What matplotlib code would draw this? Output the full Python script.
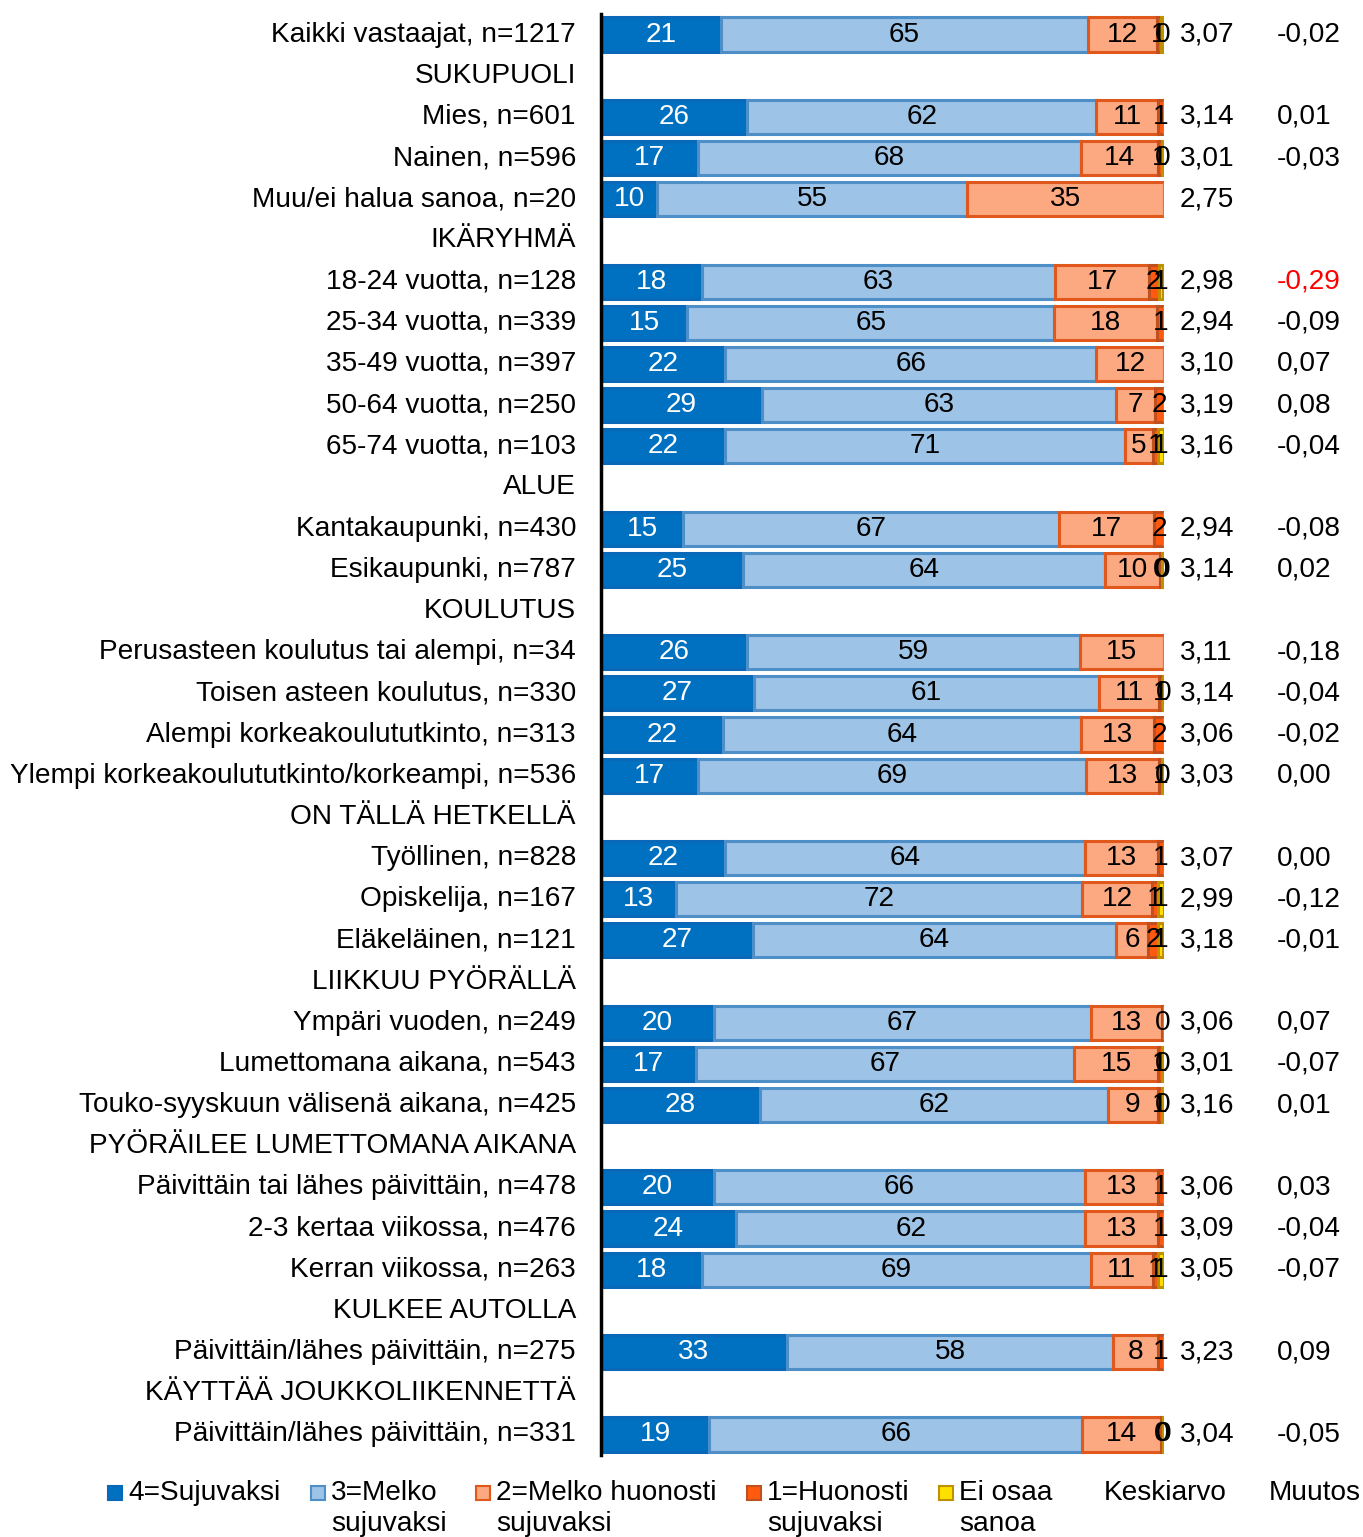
import matplotlib.pyplot as plt
from matplotlib.patches import Rectangle
import numpy as np

plt.rcParams['font.family'] = ['Liberation Sans', 'DejaVu Sans']

# Rows top to bottom; None marks a section header row
row_labels = [
    'Kaikki vastaajat, n=1217',
    'SUKUPUOLI',
    'Mies, n=601',
    'Nainen, n=596',
    'Muu/ei halua sanoa, n=20',
    'IKÄRYHMÄ',
    '18-24 vuotta, n=128',
    '25-34 vuotta, n=339',
    '35-49 vuotta, n=397',
    '50-64 vuotta, n=250',
    '65-74 vuotta, n=103',
    'ALUE',
    'Kantakaupunki, n=430',
    'Esikaupunki, n=787',
    'KOULUTUS',
    'Perusasteen koulutus tai alempi, n=34',
    'Toisen asteen koulutus, n=330',
    'Alempi korkeakoulututkinto, n=313',
    'Ylempi korkeakoulututkinto/korkeampi, n=536',
    'ON TÄLLÄ HETKELLÄ',
    'Työllinen, n=828',
    'Opiskelija, n=167',
    'Eläkeläinen, n=121',
    'LIIKKUU PYÖRÄLLÄ',
    'Ympäri vuoden, n=249',
    'Lumettomana aikana, n=543',
    'Touko-syyskuun välisenä aikana, n=425',
    'PYÖRÄILEE LUMETTOMANA AIKANA',
    'Päivittäin tai lähes päivittäin, n=478',
    '2-3 kertaa viikossa, n=476',
    'Kerran viikossa, n=263',
    'KULKEE AUTOLLA',
    'Päivittäin/lähes päivittäin, n=275',
    'KÄYTTÄÄ JOUKKOLIIKENNETTÄ',
    'Päivittäin/lähes päivittäin, n=331',
]

sujuvaksi = [21.3, None, 26, 17.2, 10, None, 17.9, 15.3, 22, 28.6, 22, None,
             14.6, 25.2, None, 26, 27.2, 21.7, 17.2, None, 22, 13.3, 27, None,
             20, 16.8, 28.2, None, 20, 24, 18, None, 33, None, 19.2]
melko_sujuvaksi = [65.2, None, 62, 68.0, 55, None, 62.8, 65.2, 66, 62.8, 71, None,
                   66.8, 64.3, None, 59, 61.2, 63.6, 69.0, None, 64, 72.2, 64.4, None,
                   67, 67.2, 61.8, None, 66, 62, 69, None, 58, None, 66.3]
melko_huonosti = [12.2, None, 11, 13.8, 35, None, 16.6, 18.3, 12, 7.0, 5, None,
                  16.8, 9.8, None, 15, 10.8, 12.9, 12.9, None, 13, 12.3, 5.8, None,
                  12.7, 15.0, 9.0, None, 13, 13, 11, None, 8, None, 14.0]
huonosti = [0.8, None, 1, 0.6, 0, None, 1.8, 1.2, 0, 1.6, 1, None,
            1.8, 0.3, None, 0, 0.6, 1.8, 0.6, None, 1, 1.2, 1.8, None,
            0.3, 0.6, 0.6, None, 1, 1, 1, None, 1, None, 0.3]
ei_osaa = [0.4, None, 0, 0.4, 0, None, 0.8, 0, 0, 0, 1, None,
           0, 0.4, None, 0, 0.2, 0, 0.3, None, 0, 1.0, 0.9, None,
           0, 0.4, 0.4, None, 0, 0, 1, None, 0, None, 0.2]

keskiarvo = [3.07, None, 3.14, 3.01, 2.75, None, 2.98, 2.94, 3.10, 3.19, 3.16, None,
             2.94, 3.14, None, 3.11, 3.14, 3.06, 3.03, None, 3.07, 2.99, 3.18, None,
             3.06, 3.01, 3.16, None, 3.06, 3.09, 3.05, None, 3.23, None, 3.04]
muutos = [-0.02, None, 0.01, -0.03, None, None, -0.29, -0.09, 0.07, 0.08, -0.04, None,
          -0.08, 0.02, None, -0.18, -0.04, -0.02, 0.00, None, 0.00, -0.12, -0.01, None,
          0.07, -0.07, 0.01, None, 0.03, -0.04, -0.07, None, 0.09, None, -0.05]

series_names = ['4=Sujuvaksi', '3=Melko\nsujuvaksi', '2=Melko huonosti\nsujuvaksi',
                '1=Huonosti\nsujuvaksi', 'Ei osaa\nsanoa']
series_fill = ['#0070C0', '#9DC3E6', '#FCA880', '#FF5A10', '#FFE100']
series_edge = ['#0A68B8', '#4F8FC8', '#E0581C', '#C0501E', '#BF9000']
series_text = ['white', 'black', 'black', 'black', 'black']

FS = 20.2


def fmt_comma(v):
    return f'{v:.2f}'.replace('.', ',')


fig = plt.figure(figsize=(13.63, 15.37), dpi=100)
ax = fig.add_axes([601 / 1363, 1 - 1455 / 1537, 563 / 1363, 1441 / 1537])

y = np.arange(len(row_labels))
data_rows = [i for i, v in enumerate(sujuvaksi) if v is not None]
yd = y[data_rows]

left = np.zeros(len(data_rows))
for series, fill, edge, tcol in zip(
        [sujuvaksi, melko_sujuvaksi, melko_huonosti, huonosti, ei_osaa],
        series_fill, series_edge, series_text):
    vals = np.array([series[i] for i in data_rows], dtype=float)
    ax.barh(yd, vals, left=left, height=0.83, color=fill,
            edgecolor=edge, linewidth=2.2)
    for yy, lft, v in zip(yd, left, vals):
        if v > 0:
            ax.text(lft + v / 2, yy, '%.0f' % v, ha='center',
                    va='center', color=tcol, fontsize=FS)
    left = left + vals

# mean and change columns
for i in data_rows:
    ax.text(102.8, y[i], fmt_comma(keskiarvo[i]), va='center',
            ha='left', fontsize=FS, clip_on=False)
    if muutos[i] is not None:
        col = 'red' if abs(muutos[i]) >= 0.2 else 'black'
        ax.text(120.1, y[i], fmt_comma(muutos[i]), va='center',
                ha='left', fontsize=FS, color=col, clip_on=False)

ax.set_xlim(0, 100)
ax.set_ylim(len(row_labels) - 0.5, -0.5)
ax.set_yticks(y)
ax.set_yticklabels(row_labels, fontsize=FS, va='center')
ax.tick_params(axis='y', length=0, pad=18)
ax.set_xticks([])
for s in ['top', 'right', 'bottom']:
    ax.spines[s].set_visible(False)
ax.spines['left'].set_linewidth(2.5)

# Legend drawn along the bottom
legend_x = [108, 311, 476, 747, 939]
for lx, name, fill, edge in zip(legend_x, series_names, series_fill, series_edge):
    fig.add_artist(Rectangle((lx / 1363, 1 - 1500 / 1537), 14 / 1363, 14 / 1537,
                             facecolor=fill, edgecolor=edge, linewidth=1.5,
                             transform=fig.transFigure))
    fig.text((lx + 20) / 1363, 1 - 1480 / 1537, name, fontsize=FS, va='top',
             ha='left', linespacing=1.25)
fig.text(1104 / 1363, 1 - 1480 / 1537, 'Keskiarvo', fontsize=FS, va='top', ha='left')
fig.text(1269 / 1363, 1 - 1480 / 1537, 'Muutos', fontsize=FS, va='top', ha='left')

fig.savefig('out.png', dpi=100)
